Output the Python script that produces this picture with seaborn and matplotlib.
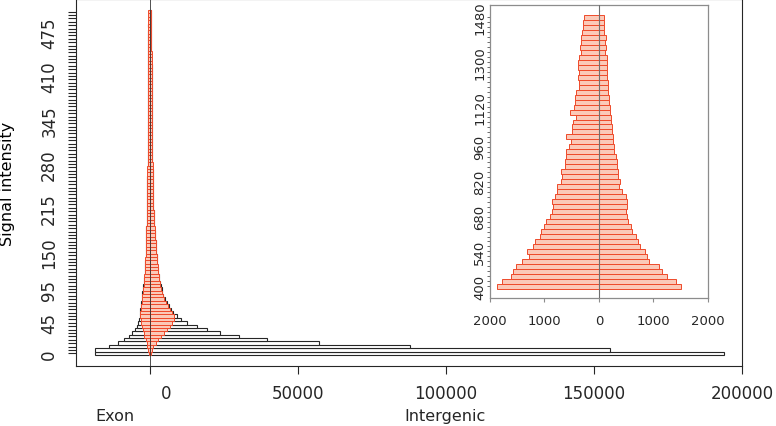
import numpy as np
import pandas as pd
import matplotlib
matplotlib.use("Agg")
import matplotlib.pyplot as plt
import seaborn as sns
from matplotlib.transforms import ScaledTranslation

# ---------------- data ----------------
# main panel: signal-intensity bins of width 5 (0 .. 505)
main_bins = list(range(0, 510, 5))
main_label_values = [0, 45, 95, 150, 215, 280, 345, 410, 475]

# all probes (black outline bars)
exon_all = [18700, 18650, 13960, 10920, 8890, 7200, 6080, 5170, 4500, 3950,
            3580, 3410, 3310, 3210, 3080, 2940, 2810, 2670, 2540, 2400,
            2260, 2160,
            1930, 1830, 1760, 1690, 1630, 1560, 1520, 1460, 1420, 1390,
            1360, 1320, 1290, 1250, 1220, 1190, 1150, 1120, 1090, 1050,
            1020, 980, 950, 925, 930, 915, 900, 890, 880, 870,
            865, 840, 824, 811, 799, 787, 768, 758, 747, 734,
            728, 722, 704, 696, 689, 677, 670, 662, 656, 643,
            641, 634, 627, 619, 612, 612, 598, 590, 584, 579,
            573, 569, 560, 559, 553, 548, 543, 540, 535, 535,
            526, 522, 518, 515, 506, 507, 504, 501, 497, 494]
inter_all = [194000, 155500, 88000, 57000, 39500, 30000, 23600, 19300, 15900, 12500,
             10500, 8960, 7770, 6930, 6250, 5580, 5070, 4560, 4190, 3890,
             3650, 3420,
             3060, 2930, 2800, 2660, 2530, 2430, 2330, 2225, 2125, 2065,
             1995, 1900, 1800, 1690, 1590, 1520, 1465, 1395, 1325, 1255,
             1195, 1130, 1060, 1030, 1000, 970, 940, 925, 912, 898,
             883, 864, 847, 830, 814, 799, 782, 768, 755, 741,
             730, 718, 710, 702, 684, 671, 658, 645, 634, 622,
             612, 603, 593, 584, 576, 568, 560, 552, 545, 538,
             531, 524, 517, 511, 505, 499, 493, 488, 482, 477,
             471, 467, 462, 457, 452, 448, 444, 441, 437, 433]

# subset (red bars)
exon_sub = [170, 510, 850, 1180, 1520, 1860, 2130, 2430, 2700, 2970,
            3140, 3250, 3210, 3110, 2970, 2840, 2700, 2570, 2430, 2300,
            2160, 2060,
            1960, 1860, 1790, 1720, 1660, 1590, 1550, 1490, 1450, 1420,
            1390, 1350, 1320, 1280, 1250, 1220, 1180, 1150, 1120, 1080,
            1050, 1010, 980, 950, 960, 945, 935, 925, 915, 905,
            900, 875, 858, 845, 832, 820, 800, 790, 778, 765,
            758, 752, 733, 725, 718, 705, 698, 690, 683, 670,
            668, 660, 653, 645, 638, 637, 623, 615, 608, 603,
            597, 593, 583, 582, 576, 571, 566, 562, 557, 557,
            548, 544, 540, 536, 527, 528, 525, 522, 518, 515]
inter_sub = [270, 680, 1180, 1860, 2700, 3720, 4730, 5750, 6760, 7600,
             8110, 8110, 7440, 6590, 5920, 5310, 4730, 4290, 3950, 3650,
             3450, 3280,
             3110, 2970, 2840, 2700, 2570, 2470, 2370, 2260, 2160, 2100,
             2030, 1930, 1830, 1720, 1620, 1550, 1490, 1420, 1350, 1280,
             1220, 1150, 1080, 1050, 1020, 990, 975, 960, 950, 935,
             920, 900, 882, 865, 848, 832, 815, 800, 786, 772,
             760, 748, 740, 731, 713, 699, 685, 672, 660, 648,
             638, 628, 618, 608, 600, 592, 583, 575, 568, 560,
             553, 546, 539, 532, 526, 520, 514, 508, 502, 497,
             491, 486, 481, 476, 471, 467, 463, 459, 455, 451]

# inset: bins of width 20 (400 .. 1480)
inset_bins = list(range(400, 1500, 20))
inset_label_values = [400, 540, 680, 820, 960, 1120, 1300, 1480]
inset_exon = [1864, 1772, 1606, 1575, 1526, 1404, 1281, 1318, 1208, 1177,
              1085, 1054, 1005, 962, 900, 870, 840, 852, 809, 778,
              766, 687, 668, 699, 625, 619, 607, 595, 546, 503,
              595, 497, 497, 484, 423, 521, 460, 441, 441, 423,
              362, 362, 380, 362, 392, 380, 362, 337, 349, 331,
              319, 307, 300, 288, 276]
inset_inter = [1508, 1410, 1257, 1152, 1110, 926, 877, 846, 754, 723,
               674, 613, 588, 527, 509, 490, 509, 509, 497, 429,
               368, 386, 343, 356, 337, 325, 307, 282, 276, 264,
               251, 245, 233, 221, 215, 202, 202, 190, 184, 172,
               159, 172, 141, 141, 153, 141, 153, 110, 123, 110,
               129, 98, 98, 98, 98]

xticks_main = [0, 50000, 100000, 150000, 200000]
xticks_inset = [-2000, -1000, 0, 1000, 2000]

assert len(exon_all) == len(inter_all) == len(exon_sub) == len(inter_sub) == len(main_bins)
assert len(inset_exon) == len(inset_inter) == len(inset_bins)

# ---------------- styling ----------------
W, H, DPI = 7.76, 4.27, 100
BLACK = "#262626"
RED_EDGE = "#ee4a2a"
RED_FILL = "#fbc9b8"

sns.set_theme(style="white")
plt.rcParams["font.family"] = ["DejaVu Sans"]

fig = plt.figure(figsize=(W, H), dpi=DPI)
fig.patch.set_facecolor("white")

ax = fig.add_axes([76 / 776, 1 - 367 / 427, (742 - 76) / 776, 367 / 427])
ax.set_facecolor("white")

n = len(main_bins)
idx = list(range(n))
df = pd.DataFrame({"pos": idx, "exon_all": exon_all, "inter_all": inter_all,
                   "exon_sub": exon_sub, "inter_sub": inter_sub})
df["exon_all_neg"] = -df["exon_all"]
df["exon_sub_neg"] = -df["exon_sub"]

common = dict(data=df, y="pos", orient="h", width=1.0, ax=ax, saturation=1, errorbar=None)
sns.barplot(x="exon_all_neg", color="white", edgecolor=BLACK, linewidth=0.8, **common)
sns.barplot(x="inter_all", color="white", edgecolor=BLACK, linewidth=0.8, **common)
sns.barplot(x="exon_sub_neg", color=RED_FILL, edgecolor=RED_EDGE, linewidth=0.7, **common)
sns.barplot(x="inter_sub", color=RED_FILL, edgecolor=RED_EDGE, linewidth=0.7, **common)
ax.axvline(0, color="#333333", lw=0.6, zorder=6)

ax.set_xlim(-25000, 200000)
ax.set_ylim(-3.76, 104.76)
ax.set_xlabel("")
ax.set_ylabel("")

ax.set_xticks(xticks_main)
ax.set_xticklabels([str(v) for v in xticks_main], fontsize=12)
ylabels = [str(b) if b in main_label_values else "" for b in main_bins]
ax.set_yticks(idx)
ax.set_yticklabels(ylabels, fontsize=12, rotation=90, va="center")
ax.tick_params(axis="both", direction="out", length=5.8, width=0.8, color=BLACK,
               pad=7, left=True, bottom=True)
for s in ax.spines.values():
    s.set_color(BLACK)
    s.set_linewidth(0.8)
# R places the "0" label slightly right of its tick
lab0 = ax.get_xticklabels()[0]
lab0.set_transform(lab0.get_transform() + ScaledTranslation(16 / DPI, 0, fig.dpi_scale_trans))

fig.text(8 / 776, 1 - 184 / 427, "Signal intensity", rotation=90, ha="center",
         va="center", fontsize=11.5, color="black")
fig.text(115 / 776, 1 - 417 / 427, "Exon", ha="center", va="center", fontsize=11.5)
fig.text(445 / 776, 1 - 417 / 427, "Intergenic", ha="center", va="center", fontsize=11.5)

# ---------------- inset ----------------
GRAY = "#8c8c8c"
ax2 = fig.add_axes([490 / 776, 1 - 299.3 / 427, (707.7 - 490) / 776, (299.3 - 6) / 427])
ax2.set_facecolor("none")
m = len(inset_bins)
kidx = list(range(m))
di = pd.DataFrame({"pos": kidx, "exon": [-v for v in inset_exon], "inter": inset_inter})
sns.barplot(data=di, x="exon", y="pos", orient="h", width=1.0, ax=ax2, saturation=1,
            color=RED_FILL, edgecolor=RED_EDGE, linewidth=0.7, errorbar=None)
sns.barplot(data=di, x="inter", y="pos", orient="h", width=1.0, ax=ax2, saturation=1,
            color=RED_FILL, edgecolor=RED_EDGE, linewidth=0.7, errorbar=None)
ax2.axvline(0, color="#6f6f6f", lw=0.8, zorder=6)
ax2.set_xlim(-2000, 2000)
ax2.set_ylim(-2.41, 56.5)
ax2.set_xlabel("")
ax2.set_ylabel("")
ax2.set_xticks(xticks_inset)
ax2.set_xticklabels([str(abs(v)) for v in xticks_inset], fontsize=9.5)
ax2.set_yticks(kidx)
ax2.set_yticklabels([str(b) if b in inset_label_values else "" for b in inset_bins],
                    fontsize=9.5, rotation=90, va="center")
ax2.tick_params(axis="y", direction="out", length=2, width=0.6, color="#555555", pad=0.8,
                left=True)
ax2.tick_params(axis="x", direction="out", length=3, width=0.8, color=GRAY, pad=8,
                bottom=True)
for s in ax2.spines.values():
    s.set_color(GRAY)
    s.set_linewidth(0.9)

fig.savefig("out.png", dpi=DPI, facecolor="white")
